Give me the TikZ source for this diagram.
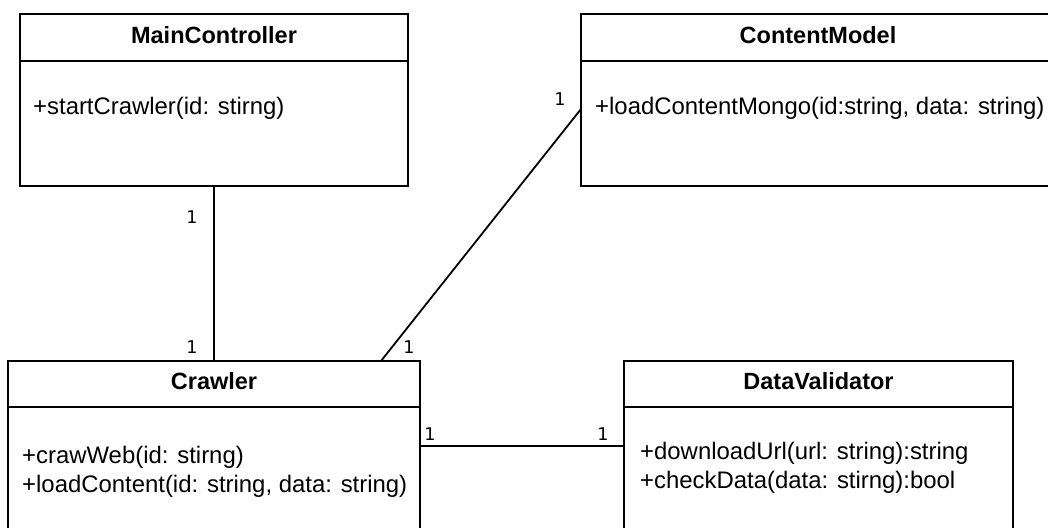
\documentclass[tikz,border=0pt]{standalone}
\usepackage{fontspec}
\setmainfont{Liberation Sans}
\newfontfamily\multfont{DejaVu Sans}
\begin{document}
\begin{tikzpicture}[x=1pt,y=-1pt,
  classbox/.style={draw, line width=1.8pt, anchor=north west, inner sep=0pt, outer sep=0pt},
  rule/.style={line width=1.8pt},
  assoc/.style={line width=1.8pt},
  classname/.style={anchor=base, inner sep=0pt, font=\fontsize{23.5}{28}\selectfont\bfseries},
  member/.style={anchor=base west, inner sep=0pt, font=\fontsize{23.9}{28}\selectfont},
  mult/.style={inner sep=0pt, font=\multfont\fontsize{17.5}{20}\selectfont}
]
\useasboundingbox (0,0) rectangle (1048,527);
\clip (0,0) rectangle (1048,527);

% MainController
\node[classbox, minimum width=388pt, minimum height=172pt] (main) at (20,14) {};
\draw[rule] ([yshift=-47pt]main.north west) -- ([yshift=-47pt]main.north east);
\node[classname] (mainT) at (214,43.5) {MainController};
\node[member] (mainM) at (33,114.5) {+startCrawler(id: stirng)};

% ContentModel
\node[classbox, minimum width=474pt, minimum height=172pt] (content) at (581,14) {};
\draw[rule] ([yshift=-47pt]content.north west) -- ([yshift=-47pt]content.north east);
\node[classname] (contentT) at (818,43.5) {ContentModel};
\node[member] (contentM) at (595,114) {+loadContentMongo(id:string, data: string)};

% Crawler
\node[classbox, minimum width=412pt, minimum height=170pt] (crawler) at (8,361) {};
\draw[rule] ([yshift=-46pt]crawler.north west) -- ([yshift=-46pt]crawler.north east);
\node[classname] (crawlerT) at (214,389) {Crawler};
\node[member] (crawlerA) at (22,463.5) {+crawWeb(id: stirng)};
\node[member] (crawlerB) at (22,492) {+loadContent(id: string, data: string)};

% DataValidator
\node[classbox, minimum width=389pt, minimum height=170pt] (validator) at (624,361) {};
\draw[rule] ([yshift=-46pt]validator.north west) -- ([yshift=-46pt]validator.north east);
\node[classname] (validatorT) at (818.5,389) {DataValidator};
\node[member] (validatorA) at (640,459.5) {+downloadUrl(url: string):string};
\node[member] (validatorB) at (640,488) {+checkData(data: stirng):bool};

% Associations
\draw[assoc] (main.south) -- (crawler.north);
\draw[assoc] ([yshift=-9pt]content.west) -- ([xshift=167pt]crawler.north);
\draw[assoc] (crawler.east) -- (validator.west);

% Multiplicities
\node[mult] (m1) at (192,217) {1};
\node[mult] (m2) at (192,347) {1};
\node[mult] (m3) at (560,99) {1};
\node[mult] (m4) at (409,347) {1};
\node[mult] (m5) at (430,434) {1};
\node[mult] (m6) at (603,434) {1};
\end{tikzpicture}
\end{document}
